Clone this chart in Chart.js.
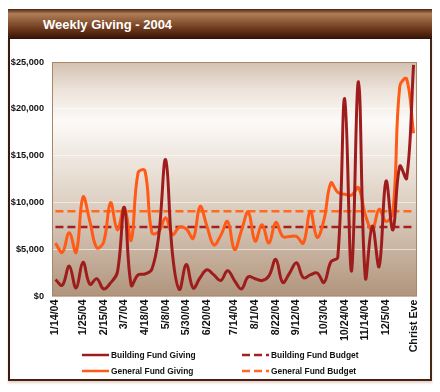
<!DOCTYPE html>
<html>
<head>
<meta charset="utf-8">
<script src="https://cdn.jsdelivr.net/npm/chart.js@4.4.1/dist/chart.umd.min.js"></script>
<style>
  html, body { margin: 0; padding: 0; background: #ffffff; width: 440px; height: 392px; overflow: hidden; }
  #panel { position: absolute; left: 8px; top: 38px; width: 424px; height: 343px; box-sizing: border-box;
           border-left: 2px solid #3a1a0c; border-right: 2px solid #4a2614; border-bottom: 2px solid #4a2010;
           box-shadow: 0 2px 2px rgba(150, 80, 60, 0.25); background: #fff; }
  #titlebar { position: absolute; left: 8px; top: 9px; width: 424px; height: 30px;
              background: linear-gradient(to bottom, #4b2612 0%, #b07e58 16%, #9a6742 32%, #6e3a1e 65%, #4a200c 88%, #2e1206 100%); }
  #titlebar span { position: absolute; left: 35px; top: 9px; font: bold 13px "Liberation Sans", Arial, sans-serif;
                   line-height: 13px; color: #ffffff; white-space: nowrap; }
  #c { position: absolute; left: 0; top: 0; }
</style>
</head>
<body>
<div id="panel"></div>
<div id="titlebar"><span>Weekly Giving - 2004</span></div>
<canvas id="c" width="440" height="392"></canvas>
<script>
// ---- data ----
const weekLabels = [
  '1/14/04', '', '', '', '1/25/04', '', '', '2/15/04', '', '', '3/7/04', '', '', '4/18/04', '', '',
  '5/8/04', '', '', '5/30/04', '', '', '6/20/04', '', '', '', '7/14/04', '', '', '8/1/04', '', '',
  '8/22/04', '', '', '9/12/04', '', '', '', '10/3/04', '', '', '10/24/04', '', '', '11/14/04', '', '',
  '12/5/04', '', '', '', 'Christ Eve'
];
const buildingFundGiving = [
  1800, 1200, 3250, 900, 3650, 1300, 1900, 800, 1450, 2600, 9500, 1200, 2300, 2400, 2900, 6500,
  14600, 4500, 750, 3400, 900, 2000, 2850, 2300, 1700, 2750, 1700, 800, 2100, 1900, 1700, 2200,
  3950, 1500, 2500, 3600, 2000, 2300, 2500, 1500, 3700, 4200, 21100, 2700, 22900, 2000, 7500, 3200,
  12300, 7100, 13900, 12600, 24700
];
const generalFundGiving = [
  5700, 4700, 6800, 4700, 10600, 8000, 5200, 5800, 10000, 7100, 9500, 6000, 13200, 13400, 6800, 6900,
  8400, 6600, 7400, 7200, 6200, 9600, 7500, 5500, 6500, 8000, 5000, 7000, 9000, 5900, 7650, 5700,
  7900, 6400, 6400, 6400, 5700, 9100, 6300, 8200, 12100, 11100, 10900, 10800, 11600, 8700, 7100, 9300,
  8000, 9000, 22400, 23200, 17400
];
const buildingFundBudget = 7400;
const generalFundBudget = 9100;
const seriesNames = ['Building Fund Giving', 'General Fund Giving', 'Building Fund Budget', 'General Fund Budget'];
const yTickValues = [0, 5000, 10000, 15000, 20000, 25000];

// ---- styling ----
const DARK_RED = '#9e1c1c';
const ORANGE = '#ff5a16';
const DARK_RED_DASH = '#a3211e';
const ORANGE_DASH = '#ff6a1e';

const plotBackground = {
  id: 'plotBackground',
  beforeDraw(chart) {
    const { ctx, chartArea: a } = chart;
    const g = ctx.createLinearGradient(0, a.top, 0, a.bottom);
    g.addColorStop(0, '#d3c1b1');
    g.addColorStop(0.12, '#ece3da');
    g.addColorStop(0.25, '#fcfaf8');
    g.addColorStop(0.45, '#ebe2d9');
    g.addColorStop(0.7, '#d4c3b3');
    g.addColorStop(1, '#b0947c');
    ctx.save();
    ctx.fillStyle = g;
    ctx.fillRect(a.left, a.top, a.right - a.left, a.bottom - a.top);
    ctx.restore();
  },
  beforeDatasetsDraw(chart) {
    const { ctx, chartArea: a } = chart;
    ctx.save();
    ctx.strokeStyle = '#a8866c';
    ctx.lineWidth = 1;
    ctx.strokeRect(a.left + 0.5, a.top + 0.5, a.right - a.left - 1, a.bottom - a.top - 1);
    ctx.restore();
  }
};

const customLegend = {
  id: 'customLegend',
  afterDraw(chart) {
    const ctx = chart.ctx;
    const slots = [[0, 82, 355], [2, 242, 355], [1, 82, 371], [3, 242, 371]];
    ctx.save();
    ctx.font = 'bold 8.4px "Liberation Sans", Arial, sans-serif';
    ctx.textBaseline = 'middle';
    ctx.fillStyle = '#111111';
    slots.forEach(([i, x, y]) => {
      const ds = chart.data.datasets[i];
      ctx.strokeStyle = ds.borderColor;
      ctx.lineWidth = ds.borderDash ? 2.5 : 2.5;
      ctx.setLineDash(ds.borderDash || []);
      ctx.beginPath();
      ctx.moveTo(x, y);
      ctx.lineTo(x + 27, y);
      ctx.stroke();
      ctx.setLineDash([]);
      ctx.fillText(ds.label, x + 29, y + 0.5);
    });
    ctx.restore();
  }
};

new Chart(document.getElementById('c'), {
  type: 'line',
  data: {
    labels: weekLabels,
    datasets: [
      { label: seriesNames[0], data: buildingFundGiving, borderColor: DARK_RED, borderWidth: 3, tension: 0.4 },
      { label: seriesNames[1], data: generalFundGiving, borderColor: ORANGE, borderWidth: 3, tension: 0.4 },
      { label: seriesNames[2], data: weekLabels.map(() => buildingFundBudget), borderColor: DARK_RED_DASH,
        borderWidth: 2.5, borderDash: [8, 4], tension: 0 },
      { label: seriesNames[3], data: weekLabels.map(() => generalFundBudget), borderColor: ORANGE_DASH,
        borderWidth: 2.5, borderDash: [8, 4], tension: 0 }
    ]
  },
  options: {
    responsive: false,
    animation: false,
    devicePixelRatio: 1,
    layout: { padding: { top: 62, right: 23, bottom: 0, left: 0 } },
    elements: { point: { radius: 0 }, line: { borderCapStyle: 'butt', borderJoinStyle: 'round' } },
    plugins: { legend: { display: false }, tooltip: { enabled: false } },
    scales: {
      x: {
        type: 'category',
        offset: true,
        grid: { display: false, drawTicks: false },
        border: { display: false },
        afterFit(scale) { scale.height = 95.5; },
        ticks: {
          autoSkip: false, maxRotation: 90, minRotation: 90, padding: 3,
          color: '#111111',
          font: { family: '"Liberation Sans", Arial, sans-serif', size: 10.7, weight: 'bold' }
        }
      },
      y: {
        min: 0, max: 25000,
        afterFit(scale) { scale.width = 52; },
        afterBuildTicks(scale) { scale.ticks = yTickValues.map(v => ({ value: v })); },
        grid: { color: 'rgba(255,255,255,0.55)', lineWidth: 1, drawTicks: false },
        border: { display: false },
        ticks: {
          padding: 8,
          color: '#111111',
          font: { family: '"Liberation Sans", Arial, sans-serif', size: 9.2, weight: 'bold' },
          callback: (v) => '$' + Number(v).toLocaleString('en-US')
        }
      }
    }
  },
  plugins: [plotBackground, customLegend]
});
</script>
</body>
</html>
